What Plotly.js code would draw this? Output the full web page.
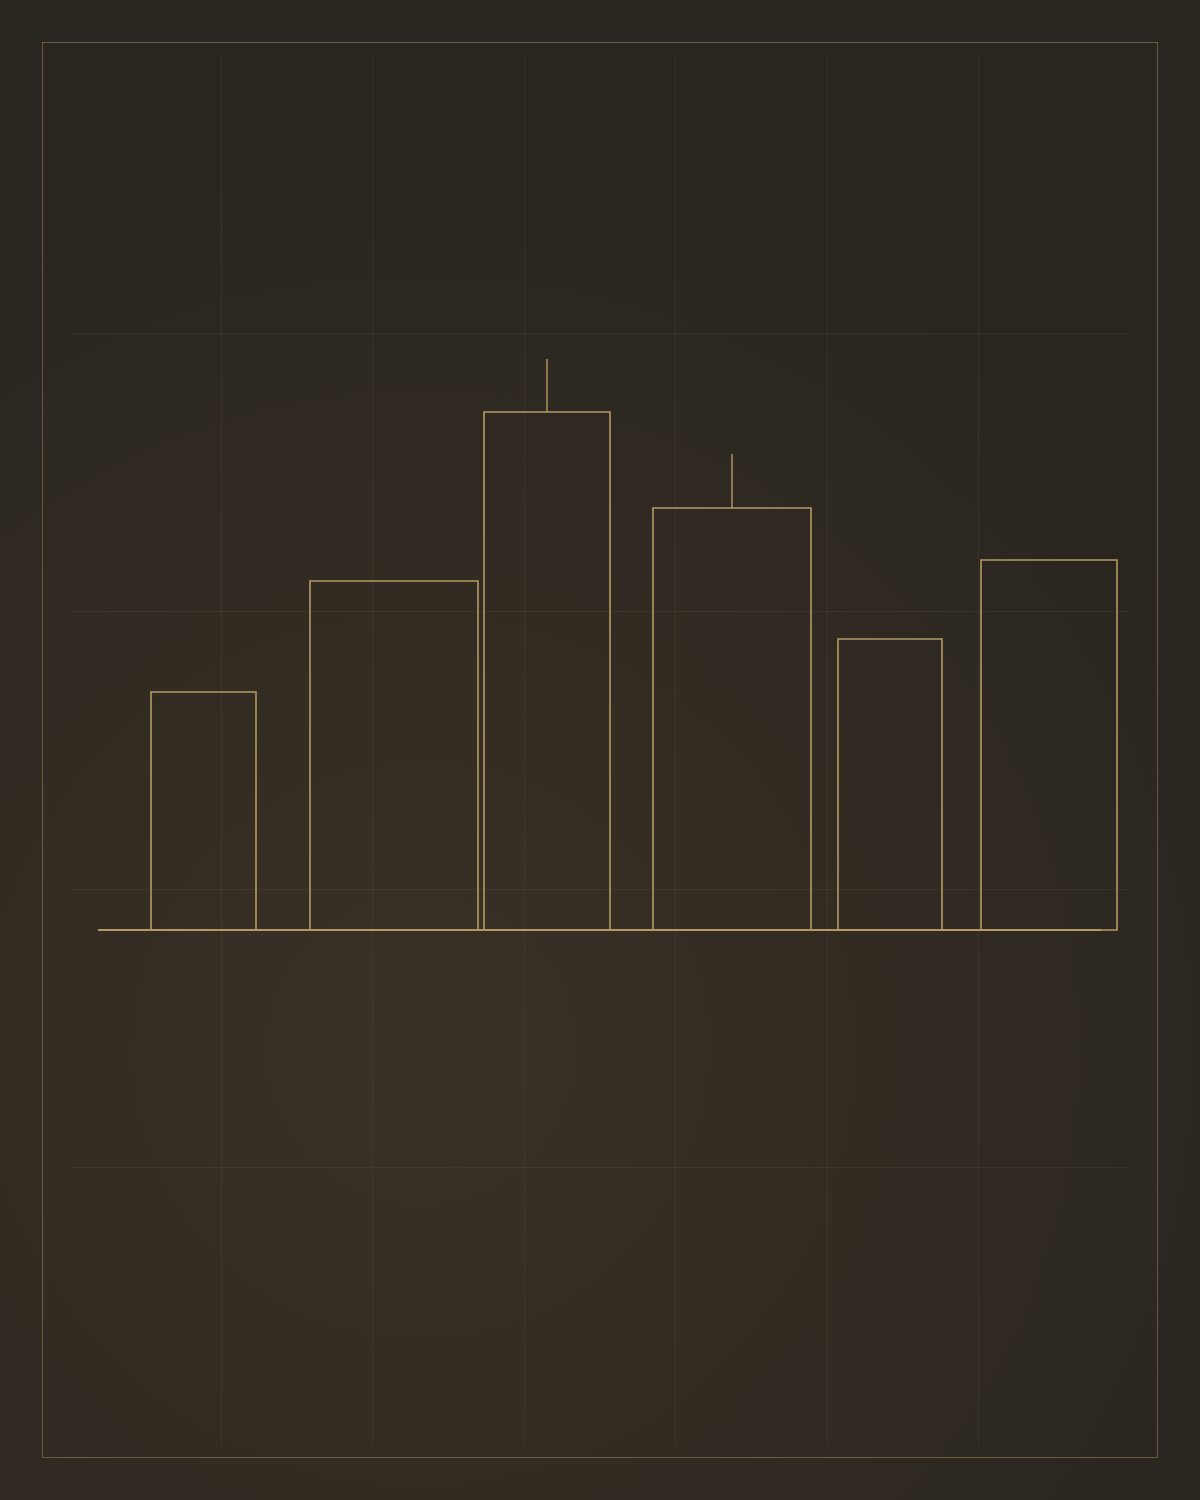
<!DOCTYPE html>
<html>
<head>
<meta charset="utf-8">
<script src="https://cdn.plot.ly/plotly-3.0.1.min.js"></script>
<style>
  html, body { margin: 0; padding: 0; }
  body {
    width: 1200px; height: 1500px; overflow: hidden;
    background: radial-gradient(ellipse 75% 60% at 35% 70%, #3a3126 0%, #332c23 45%, #29251f 100%);
    position: relative;
  }
  .frame {
    position: absolute; left: 42px; top: 42px; width: 1114px; height: 1414px;
    border: 1.5px solid #6b5a40;
  }
  #chart { position: absolute; left: 0; top: 0; width: 1200px; height: 1500px; }
</style>
</head>
<body>
<div class="frame"></div>
<div id="chart"></div>
<script>
// ---- Datos (1 unidad = 10 px) ----
const centers = [13.35, 32.4, 47.7, 66.2, 82.0, 97.9];
const widths  = [10.5, 16.8, 12.6, 15.8, 10.4, 13.6];
const values  = [23.8, 34.9, 51.8, 42.2, 29.1, 37.0];
const errUp   = [0, 0, 5.3, 5.4, 0, 0];
const baseX   = [2.8, 103.1];
const baseY   = [0, 0];

const gold = '#b39b63';

const bars = {
  type: 'bar',
  x: centers,
  y: values,
  width: widths,
  marker: { color: 'rgba(0,0,0,0)', line: { color: gold, width: 1.6 } },
  error_y: {
    type: 'data', symmetric: false, array: errUp, arrayminus: errUp.map(() => 0),
    color: gold, thickness: 1.4, width: 0,
    visible: true
  },
  hoverinfo: 'skip'
};

const baseline = {
  type: 'scatter',
  mode: 'lines',
  x: baseX,
  y: baseY,
  line: { color: gold, width: 2 },
  hoverinfo: 'skip'
};

const layout = {
  width: 1200,
  height: 1500,
  paper_bgcolor: 'rgba(0,0,0,0)',
  plot_bgcolor: 'rgba(0,0,0,0)',
  margin: { l: 70, r: 70, t: 55, b: 55 },
  showlegend: false,
  xaxis: {
    range: [0, 106], tick0: 0, dtick: 106 / 7,
    showgrid: true, gridcolor: 'rgba(120,100,70,0.18)', gridwidth: 1,
    zeroline: false, showline: false, showticklabels: false, ticks: ''
  },
  yaxis: {
    range: [-51.5, 87.5], tick0: -51.5, dtick: 27.8,
    showgrid: true, gridcolor: 'rgba(120,100,70,0.18)', gridwidth: 1,
    zeroline: false, showline: false, showticklabels: false, ticks: ''
  }
};

Plotly.newPlot('chart', [bars, baseline], layout, { displayModeBar: false, staticPlot: true });
</script>
</body>
</html>
